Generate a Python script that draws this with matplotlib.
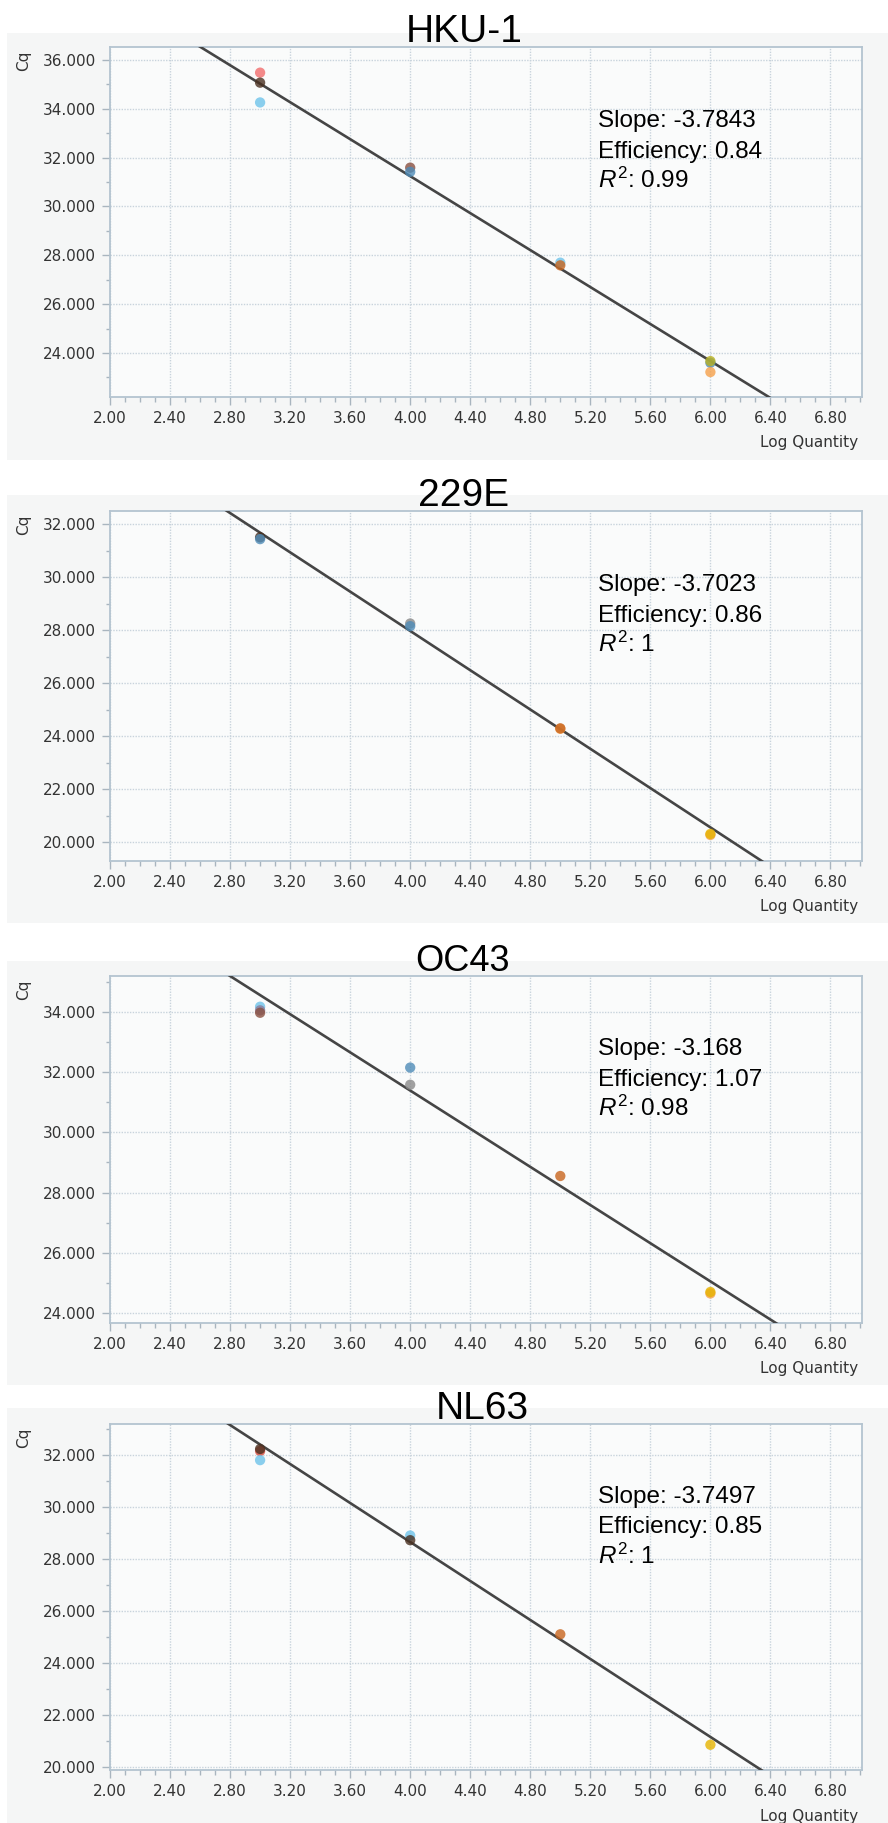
import matplotlib
matplotlib.use('Agg')
import matplotlib.pyplot as plt
from matplotlib.patches import Rectangle
from matplotlib.ticker import MultipleLocator, FormatStrFormatter
import numpy as np

plt.rcParams['font.family'] = ['DejaVu Sans']
plt.rcParams['mathtext.fontset'] = 'custom'
plt.rcParams['mathtext.rm'] = 'Liberation Sans'
plt.rcParams['mathtext.it'] = 'Liberation Sans:italic'

# ---- data ----
titles = ['HKU-1', '229E', 'OC43', 'NL63']
slopes = [-3.7843, -3.7023, -3.168, -3.7497]
intercepts = [46.38, 42.78, 44.06, 43.65]
efficiency = ['0.84', '0.86', '1.07', '0.85']
r2 = ['0.99', '1', '0.98', '1']
ylims = [(22.2, 36.53), (19.3, 32.49), (23.67, 35.19), (19.88, 33.19)]
yticks_lo = [24, 20, 24, 20]
yticks_hi = [36, 32, 34, 32]

c_pink, c_dark, c_lblue, c_sblue = '#f26d6d', '#4a3020', '#6ec3ea', '#4f8cb8'
c_orange, c_gold, c_gray, c_rust = '#f5a04a', '#e6b400', '#8a8a8a', '#c8651e'
c_brown, c_olive, c_red, c_mauve = '#8a5040', '#b8b020', '#d84a3a', '#8a7a9a'

pts_x = [
    [3, 3, 3, 4, 4, 5, 5, 6, 6, 6],
    [3, 3, 4, 4, 5, 5, 6, 6],
    [3, 3, 3, 4, 4, 5, 6, 6],
    [3, 3, 3, 4, 4, 5, 6],
]
pts_y = [
    [35.48, 35.07, 34.26, 31.59, 31.42, 27.70, 27.59, 23.60, 23.67, 23.22],
    [31.50, 31.43, 28.25, 28.15, 24.28, 24.30, 20.28, 20.32],
    [34.17, 34.05, 33.97, 32.15, 31.58, 28.55, 24.65, 24.70],
    [32.15, 32.23, 31.80, 28.90, 28.72, 25.10, 20.85],
]
pts_c = [
    [c_pink, c_dark, c_lblue, c_brown, c_sblue, c_lblue, c_rust, c_sblue, c_olive, c_orange],
    [c_dark, c_sblue, c_gray, c_sblue, c_orange, c_rust, c_orange, c_gold],
    [c_lblue, c_mauve, c_brown, c_sblue, c_gray, c_rust, c_orange, c_gold],
    [c_red, c_dark, c_lblue, c_lblue, c_dark, c_rust, c_gold],
]

# ---- layout (pixels) ----
W, H = 888, 1823
ax_top = [47, 511, 976, 1424]
ax_bot = [397, 861, 1323, 1770]
ax_left, ax_right = 110, 862
bg_top = [33, 495, 961, 1408]
bg_bot = [460, 923, 1385, 1823]
title_x = [464, 464, 462, 482]
title_size = [28, 28, 26, 28]

grid_c = '#c8d3dc'
spine_c = '#b4c4d0'
tick_c = '#a9b5bf'
text_c = '#333333'

fig = plt.figure(figsize=(W / 100, H / 100), dpi=100)
fig.patch.set_facecolor('white')

for i in range(4):
    fig.patches.append(Rectangle((7 / W, 1 - bg_bot[i] / H), 1 - 7 / W, (bg_bot[i] - bg_top[i]) / H,
                                 transform=fig.transFigure, facecolor='#f5f6f6',
                                 edgecolor='none', zorder=-5))
    ax = fig.add_axes([ax_left / W, 1 - ax_bot[i] / H, (ax_right - ax_left) / W,
                       (ax_bot[i] - ax_top[i]) / H])
    ax.set_facecolor('#fafbfb')
    ax.set_xlim(2.0, 7.01)
    ax.set_ylim(*ylims[i])

    ax.xaxis.set_major_locator(MultipleLocator(0.4))
    ax.xaxis.set_minor_locator(MultipleLocator(0.1))
    ax.xaxis.set_major_formatter(FormatStrFormatter('%.2f'))
    ax.set_yticks(np.arange(yticks_lo[i], yticks_hi[i] + 1, 2))
    ax.yaxis.set_minor_locator(MultipleLocator(1))
    ax.yaxis.set_major_formatter(FormatStrFormatter('%.3f'))

    ax.grid(True, which='major', color=grid_c, linestyle=(0, (1, 1)), linewidth=1.0)
    ax.set_axisbelow(True)
    for s in ax.spines.values():
        s.set_color(spine_c)
        s.set_linewidth(1.3)

    ax.tick_params(axis='x', which='major', length=6, width=1, color=tick_c,
                   labelsize=11, labelcolor=text_c, pad=4)
    ax.tick_params(axis='x', which='minor', length=3.5, width=1, color=tick_c)
    ax.tick_params(axis='y', which='major', length=6, width=1, color=tick_c,
                   labelsize=11, labelcolor=text_c, pad=4)
    ax.tick_params(axis='y', which='minor', length=3, width=1, color=tick_c)

    xs = np.array([2.0, 7.01])
    ax.plot(xs, intercepts[i] + slopes[i] * xs, color='#454545', linewidth=1.9, zorder=3)
    ax.scatter(pts_x[i], pts_y[i], c=pts_c[i], s=55, alpha=0.8, linewidths=0, zorder=4)

    ax.text(0.649, 0.771, 'Slope: %s' % slopes[i], transform=ax.transAxes,
            family='Liberation Sans', fontsize=17.5, color='black', va='baseline')
    ax.text(0.649, 0.684, 'Efficiency: %s' % efficiency[i], transform=ax.transAxes,
            family='Liberation Sans', fontsize=17.5, color='black', va='baseline')
    ax.text(0.649, 0.597, r'$R^{2}$: %s' % r2[i], transform=ax.transAxes,
            family='Liberation Sans', fontsize=17.5, color='black', va='baseline')

    ax.annotate('Cq', xy=(0, 1), xycoords='axes fraction', xytext=(-86, -14),
                textcoords='offset pixels', rotation=90, ha='center', va='center',
                fontsize=11, color=text_c)
    ax.annotate('Log Quantity', xy=(1, 0), xycoords='axes fraction', xytext=(-4, -46),
                textcoords='offset pixels', ha='right', va='center',
                fontsize=11, color=text_c)

    fig.text(title_x[i] / W, 1 - (ax_top[i] - 5) / H, titles[i], ha='center',
             va='baseline', family='Liberation Sans', fontsize=title_size[i], color='black')

fig.savefig('out.png', dpi=100)
